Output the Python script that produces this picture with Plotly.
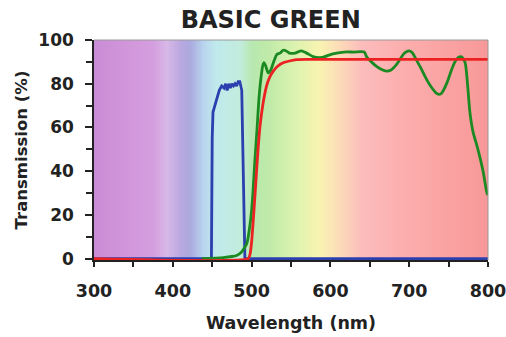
import plotly.graph_objects as go

# --- data ---
blue_x = [300, 449, 450, 451, 455, 459, 462, 465, 467, 469, 471, 473, 475, 477, 479, 481, 483, 485, 487.5, 489, 491.5, 492, 800]
blue_y = [0, 0, 55, 67, 72, 77, 79, 78, 80, 77, 80, 78, 80, 79, 80, 79, 81, 81, 77, 40, 0, 0, 0]

green_x = [437, 464, 475, 481, 487, 491, 494, 497, 500, 502, 504, 507, 509.5, 512, 514, 515.7, 518, 521, 524, 528, 532, 536, 540, 544, 548, 555, 563, 570, 578, 589, 603, 617, 630, 643, 646, 652, 659, 665, 671, 677, 684, 688, 692.5, 696, 700, 704, 709, 715, 722, 728, 735, 740, 743, 748, 754, 758, 762, 766.5, 771, 774, 777, 781, 786, 790, 794, 798.4, 800]
green_y = [0, 0.5, 1, 1.5, 3, 5, 7, 13, 22, 32, 44, 60, 74, 83, 88, 89.6, 88, 85, 86, 90, 93.4, 94, 95.3, 95, 94, 94, 95, 94, 92.4, 92, 93.7, 94.5, 94.5, 94.5, 92.3, 90, 87.8, 86.5, 85.8, 86.3, 88.8, 91, 93.4, 94.5, 95, 94.2, 91, 87, 82, 78.5, 75.5, 75.3, 76.7, 80.5, 86.6, 90, 91.9, 92.3, 89.6, 80, 67, 58, 51.6, 46, 39.5, 30.4, 29]

red_x = [300, 495.8, 498, 500, 502, 504.3, 506.5, 508.5, 510.5, 512.8, 515.5, 519, 523, 527.5, 533, 540, 548, 557, 570, 600, 700, 800]
red_y = [0, 0, 2, 7.6, 17, 29, 41, 51.6, 60, 66.8, 73, 79, 83, 85.8, 88, 89.6, 90.4, 91, 91.1, 91.1, 91.1, 91.1]

# background spectrum stops (wavelength, colour)
spec_w = [300, 340, 375, 392, 410, 422, 438, 455, 485, 500, 520, 550, 585, 610, 640, 700, 800]
spec_c = ["#c98cd6", "#d196da", "#d49ede", "#d8b8e8", "#b8a8e0", "#aaaade", "#b8d4ee",
          "#c0eaec", "#c2ecdc", "#b8e8b0", "#bfeaa8", "#d8f2b0", "#f8f4b0", "#fcdcb8",
          "#fcbcbc", "#fcacac", "#f89898"]

x_ticks = [300, 400, 500, 600, 700, 800]
y_ticks = [0, 20, 40, 60, 80, 100]

FONT = "DejaVu Sans"
DARK = "#222222"

colorscale = [[(w - 300) / 500, c] for w, c in zip(spec_w, spec_c)]
bg_x = list(range(300, 801, 2))

fig = go.Figure()
fig.add_trace(go.Heatmap(
    x=bg_x, y=[-5, 105], z=[bg_x, bg_x], colorscale=colorscale, zmin=300, zmax=800,
    zsmooth="best", showscale=False, hoverinfo="skip"))

fig.add_trace(go.Scatter(x=blue_x, y=blue_y, mode="lines",
                         line=dict(color="#2b3fae", width=2.8), cliponaxis=False, showlegend=False))
fig.add_trace(go.Scatter(x=green_x, y=green_y, mode="lines",
                         line=dict(color="#1c8a22", width=2.8, shape="spline", smoothing=0.6),
                         cliponaxis=False, showlegend=False))
fig.add_trace(go.Scatter(x=red_x, y=red_y, mode="lines",
                         line=dict(color="#ec2222", width=2.8, shape="spline", smoothing=0.5),
                         cliponaxis=False, showlegend=False))

fig.update_layout(
    width=506, height=337,
    margin=dict(l=94, r=18, t=40, b=77, autoexpand=False),
    paper_bgcolor="white", plot_bgcolor="white",
    title=dict(text="<b>BASIC GREEN</b>", x=0.535, xanchor="center", y=1 - 20 / 337,
               yanchor="middle", yref="container",
               font=dict(family=FONT, size=24, color=DARK)),
    font=dict(family=FONT, color=DARK),
    xaxis=dict(range=[300, 800], tickvals=x_ticks, ticktext=[f"<b>{v}</b>" for v in x_ticks],
               ticks="outside", ticklen=5, tickwidth=2, tickcolor=DARK, layer="below traces",
               minor=dict(dtick=50, ticks="outside", ticklen=5, tickwidth=2, tickcolor=DARK),
               showgrid=False, zeroline=False, showline=True, linecolor=DARK, linewidth=1.5,
               tickfont=dict(size=17.5, color=DARK), ticklabelstandoff=9,
               ticklabeloverflow="allow", automargin=False,
               title=dict(text="<b>Wavelength (nm)</b>", font=dict(size=17.5, color=DARK), standoff=17)),
    yaxis=dict(range=[-0.6, 100], tickvals=y_ticks, ticktext=[f"<b>{v}</b>" for v in y_ticks],
               ticks="outside", ticklen=7, tickwidth=2, tickcolor=DARK, ticklabelstandoff=8,
               minor=dict(dtick=10, ticks="outside", ticklen=6, tickwidth=2, tickcolor=DARK),
               showgrid=False, zeroline=False, showline=True, linecolor=DARK, linewidth=1.5,
               tickfont=dict(size=17, color=DARK), ticklabeloverflow="allow", automargin=False,
               title=dict(text="<b>Transmission (%)</b>", font=dict(size=16.5, color=DARK), standoff=7)),
    shapes=[
        dict(type="line", xref="paper", yref="paper", x0=0, x1=1, y0=1, y1=1,
             line=dict(color="#999999", width=1)),
        dict(type="line", xref="paper", yref="paper", x0=1, x1=1, y0=0, y1=1,
             line=dict(color="#999999", width=1)),
    ],
)

fig.write_html("out.html")
